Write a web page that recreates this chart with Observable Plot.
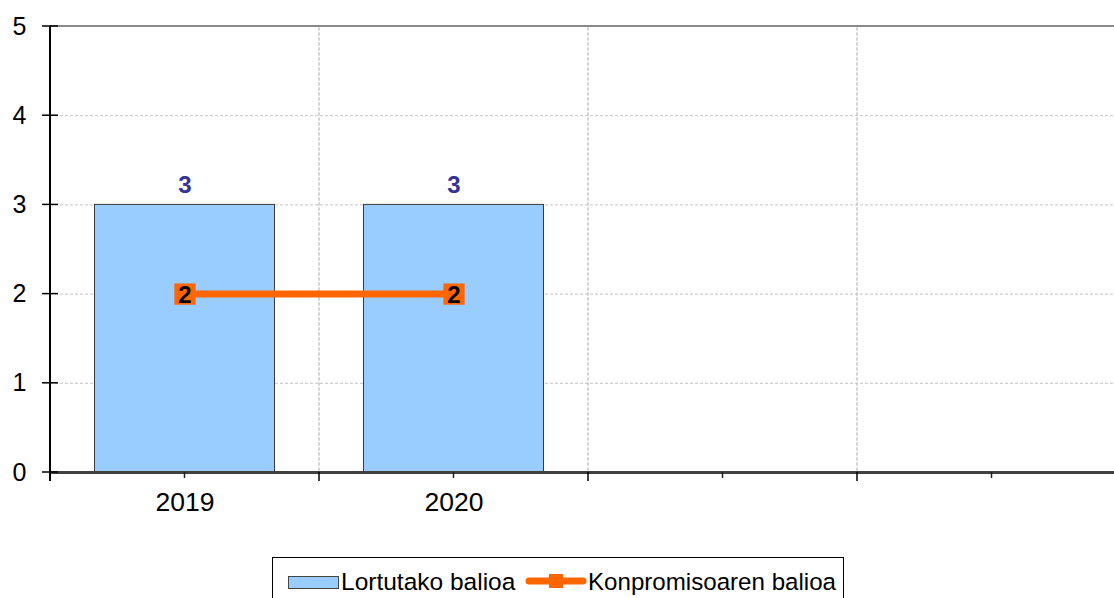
<!DOCTYPE html>
<html><head><meta charset="utf-8">
<script src="https://cdn.jsdelivr.net/npm/d3@7"></script>
<script src="https://cdn.jsdelivr.net/npm/@observablehq/plot@0.6"></script>
<style>
body{margin:0;background:#fff;font-family:"Liberation Sans",Arial,sans-serif;overflow:hidden;width:1114px;height:598px;position:relative}
#legend{position:absolute;left:272px;top:557px}
</style></head><body>
<div id="chart"></div>
<div id="legend"></div>
<script>
// categories (last two slots are empty in the original chart)
const categories = ["2019", "2020", " ", "  "];
const achievedYears = ["2019", "2020"];
const achievedValues = [3, 3];          // Lortutako balioa
const commitmentValues = [2, 2];        // Konpromisoaren balioa
const yTicks = [0, 1, 2, 3, 4, 5];
const seriesNames = ["Lortutako balioa", "Konpromisoaren balioa"];

const achieved = achievedYears.map((c, i) => ({cat: c, v: achievedValues[i]}));
const commitment = achievedYears.map((c, i) => ({cat: c, v: commitmentValues[i]}));

const BLUE = "#99CCFF", ORANGE = "#FF6600";

function axesMark(index, scales, values, dimensions) {
  const {x, y} = scales;
  const g = d3.create("svg:g");
  const bw = x.bandwidth();
  const y0 = y(0), yTop = y(5);
  const left = x(categories[0]);
  g.append("line").attr("x1", left).attr("x2", dimensions.width + 20)
    .attr("y1", yTop).attr("y2", yTop).attr("stroke", "#8a8a8a").attr("stroke-width", 2);
  g.append("line").attr("x1", left).attr("x2", dimensions.width + 20)
    .attr("y1", y0 + 0.5).attr("y2", y0 + 0.5).attr("stroke", "#404040").attr("stroke-width", 3);
  g.append("line").attr("x1", left).attr("x2", left)
    .attr("y1", yTop).attr("y2", y0 + 9).attr("stroke", "#000").attr("stroke-width", 2);
  for (const t of yTicks) {
    g.append("line").attr("x1", left - 8).attr("x2", left + 8)
      .attr("y1", y(t)).attr("y2", y(t)).attr("stroke", "#000").attr("stroke-width", 1.5);
  }
  for (const c of categories) {
    const b = x(c);
    g.append("line").attr("x1", b + bw).attr("x2", b + bw)
      .attr("y1", y0).attr("y2", y0 + 9).attr("stroke", "#000").attr("stroke-width", 1.5);
    g.append("line").attr("x1", b + bw / 2).attr("x2", b + bw / 2)
      .attr("y1", y0).attr("y2", y0 + 6).attr("stroke", "#222").attr("stroke-width", 1.5);
  }
  return g.node();
}

const chart = Plot.plot({
  width: 1114,
  height: 548,
  marginLeft: 50,
  marginRight: -12,
  marginTop: 26,
  marginBottom: 76,
  style: {fontFamily: '"Liberation Sans", Arial, sans-serif', background: "#fff", overflow: "visible"},
  x: {domain: categories, padding: 0, label: null},
  y: {domain: [0, 5], label: null},
  marks: [
    Plot.ruleY([1, 2, 3, 4], {stroke: "#c4c4c4", strokeDasharray: "3,2", strokeWidth: 1}),
    Plot.barY(categories, {x: d => d, y1: 0, y2: 5, fill: "none", stroke: "#c4c4c4", strokeDasharray: "3,2", strokeWidth: 1}),
    Plot.barY(achieved, {x: "cat", y: "v", fill: BLUE, stroke: "#3a3a3a", strokeWidth: 1, insetLeft: 44.5, insetRight: 44.5}),
    Plot.text(achieved, {x: "cat", y: "v", text: d => String(d.v), dy: -20, fill: "#333399", fontWeight: "bold", fontSize: 24}),
    Plot.line(commitment, {x: "cat", y: "v", stroke: ORANGE, strokeWidth: 7}),
    Plot.dot(commitment, {x: "cat", y: "v", symbol: "square", r: 12, fill: ORANGE, stroke: "none"}),
    Plot.text(commitment, {x: "cat", y: "v", text: d => String(d.v), fill: "#000", fontWeight: "bold", fontSize: 24, dy: 1}),
    Plot.axisY(yTicks, {tickSize: 0, tickPadding: 24, fontSize: 25, fill: "#000", tickFormat: d => String(d)}),
    Plot.axisX({tickSize: 0, tickPadding: 20, fontSize: 26.5, fill: "#000", tickFormat: d => d.trim()}),
    axesMark
  ]
});
document.getElementById("chart").appendChild(chart);

// legend
const lg = d3.select("#legend").append("svg").attr("width", 572).attr("height", 41)
  .style("display", "block").style("font-family", '"Liberation Sans", Arial, sans-serif');
lg.append("rect").attr("x", 0.5).attr("y", 0.5).attr("width", 571).attr("height", 60)
  .attr("fill", "#fff").attr("stroke", "#000");
lg.append("rect").attr("x", 16.5).attr("y", 19.5).attr("width", 50).attr("height", 12)
  .attr("fill", BLUE).attr("stroke", "#444");
lg.append("text").attr("x", 69).attr("y", 33).attr("font-size", 24.5).attr("fill", "#000").text(seriesNames[0]);
lg.append("line").attr("x1", 257).attr("x2", 311).attr("y1", 24).attr("y2", 24)
  .attr("stroke", ORANGE).attr("stroke-width", 7).attr("stroke-linecap", "round");
lg.append("rect").attr("x", 277).attr("y", 17).attr("width", 14).attr("height", 14).attr("fill", ORANGE);
lg.append("text").attr("x", 316).attr("y", 33).attr("font-size", 24.5).attr("fill", "#000")
  .attr("textLength", 248).attr("lengthAdjust", "spacingAndGlyphs").text(seriesNames[1]);
</script>
</body></html>
